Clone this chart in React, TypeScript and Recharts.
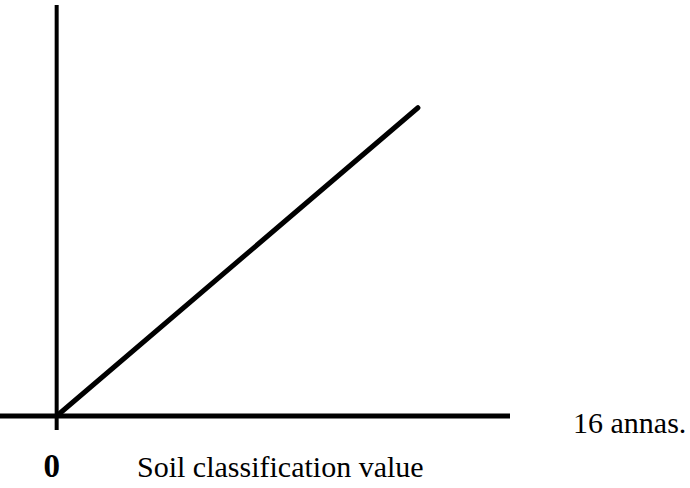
import React from "react";
import { LineChart, Line, XAxis, YAxis, ReferenceLine, Label } from "recharts";

// Soil classification value (annas) and yield
const annas = [0, 12.75];
const yieldValues = [0, 75];
const xTicks = [0];
const xDomain = [-2, 16];
const yDomain = [-3.4, 100];
const xTitle = "Soil classification value";
const yTitle = "Yield";
const endLabel = "16 annas.";

const data = annas.map((a, i) => ({ annas: a, yield: yieldValues[i] }));

const FONT = "'Liberation Serif', 'Times New Roman', serif";

const renderTick = (props: any) => {
  const { x, payload } = props;
  return (
    <text x={x - 5} y={477} textAnchor="middle" fontFamily={FONT} fontSize={33} fontWeight="bold" fill="#000">
      {payload.value}
    </text>
  );
};

const renderXLabel = (props: any) => {
  const vb = props.viewBox || { x: 0, y: 430 };
  return (
    <text x={vb.x + 137} y={vb.y + 47} fontFamily={FONT} fontSize={30} fill="#000">
      {xTitle}
    </text>
  );
};

const renderYLabel = () => (
  <text
    x={33}
    y={202}
    transform="rotate(-90 33 202)"
    textAnchor="middle"
    fontFamily={FONT}
    fontSize={28}
    fill="#000"
  >
    {yTitle}
  </text>
);

const renderEndLabel = (props: any) => {
  const vb = props.viewBox || { x: 0, y: 416, width: 510 };
  return (
    <text x={vb.x + (vb.width || 0) + 63} y={vb.y + 17} fontFamily={FONT} fontSize={30} fill="#000">
      {endLabel}
    </text>
  );
};

export default function App() {
  return (
    <div style={{ position: "absolute", left: 0, top: 0, width: 690, height: 488, background: "#fff" }}>
      <LineChart width={690} height={488} data={data} margin={{ top: 5, right: 180, left: 0, bottom: 0 }}>
        <XAxis
          dataKey="annas"
          type="number"
          domain={xDomain}
          ticks={xTicks}
          interval={0}
          axisLine={false}
          tickLine={false}
          height={58}
          tick={renderTick}
          allowDataOverflow
        >
          <Label content={renderXLabel} />
        </XAxis>
        <YAxis
          type="number"
          domain={yDomain}
          width={0}
          axisLine={false}
          tickLine={false}
          tick={false}
          allowDataOverflow
        >
          <Label content={renderYLabel} />
        </YAxis>
        <ReferenceLine x={0} stroke="#000" strokeWidth={4} ifOverflow="visible" />
        <ReferenceLine y={0} stroke="#000" strokeWidth={5} ifOverflow="visible" label={renderEndLabel} />
        <Line
          type="linear"
          dataKey="yield"
          stroke="#000"
          strokeWidth={5}
          strokeLinecap="round"
          dot={false}
          isAnimationActive={false}
        />
      </LineChart>
    </div>
  );
}
